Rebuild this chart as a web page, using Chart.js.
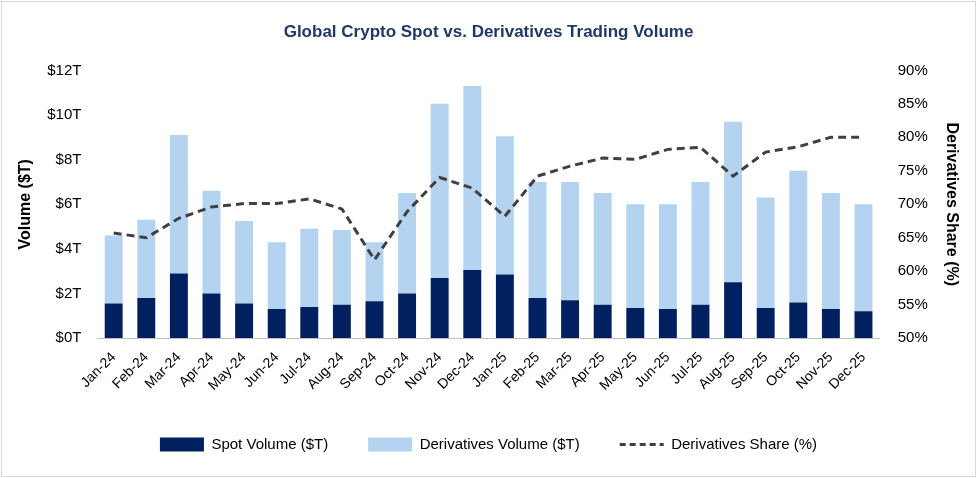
<!DOCTYPE html>
<html><head><meta charset="utf-8">
<script src="https://cdn.jsdelivr.net/npm/chart.js@4"></script>
<style>
html,body{margin:0;padding:0;background:#fff;}
#wrap{position:absolute;left:1px;top:1px;width:973px;height:474px;border:1px solid #d9d9d9;}
</style></head><body>
<div id="wrap"><canvas id="c" width="973" height="474"></canvas></div>
<script>
const categories=["Jan-24","Feb-24","Mar-24","Apr-24","May-24","Jun-24","Jul-24","Aug-24","Sep-24","Oct-24","Nov-24","Dec-24","Jan-25","Feb-25","Mar-25","Apr-25","May-25","Jun-25","Jul-25","Aug-25","Sep-25","Oct-25","Nov-25","Dec-25"];
const spotVolume=[1.55,1.8,2.9,2.0,1.55,1.3,1.4,1.5,1.65,2.0,2.7,3.05,2.85,1.8,1.7,1.5,1.35,1.3,1.5,2.5,1.35,1.6,1.3,1.2];
const derivativesVolume=[3.05,3.5,6.2,4.6,3.7,3.0,3.5,3.35,2.65,4.5,7.8,8.25,6.2,5.2,5.3,5.0,4.65,4.7,5.5,7.2,4.95,5.9,5.2,4.8];
const derivativesShare=[65.7,65.0,67.9,69.6,70.1,70.1,70.8,69.3,61.7,68.9,74.0,72.4,68.2,74.2,75.7,76.9,76.7,78.2,78.5,74.2,77.8,78.6,80.0,80.0];
const font="'Liberation Sans', Arial, sans-serif";
Chart.defaults.font.family=font;
Chart.defaults.color="#000";
new Chart(document.getElementById('c'),{
 data:{labels:categories,datasets:[
  {type:'line',label:'Derivatives Share (%)',data:derivativesShare,yAxisID:'y1',borderColor:'#404040',borderWidth:3,borderDash:[8,5],pointRadius:0,fill:false,tension:0,order:0},
  {type:'bar',label:'Spot Volume ($T)',data:spotVolume,backgroundColor:'#002060',yAxisID:'y',stack:'s',barPercentage:0.55,categoryPercentage:1,order:1},
  {type:'bar',label:'Derivatives Volume ($T)',data:derivativesVolume,backgroundColor:'#b4d3f0',yAxisID:'y',stack:'s',barPercentage:0.55,categoryPercentage:1,order:1}
 ]},
 options:{responsive:false,animation:false,
  layout:{padding:{left:10,right:10,top:8,bottom:14}},
  plugins:{
   title:{display:true,text:'Global Crypto Spot vs. Derivatives Trading Volume',color:'#1f3864',font:{size:17,weight:'bold'},padding:{top:12,bottom:28}},
   legend:{position:'bottom',labels:{font:{size:15},usePointStyle:true,pointStyleWidth:44,boxHeight:14,padding:40,
     generateLabels:(ch)=>ch.data.datasets.map((d,i)=>({text:d.label,pointStyle:d.type==='line'?'line':'rect',fillStyle:d.type==='line'?'#404040':d.backgroundColor,strokeStyle:d.type==='line'?'#404040':d.backgroundColor,lineWidth:d.type==='line'?3:0,lineDash:d.type==='line'?[6,4]:[],datasetIndex:i,fontColor:'#000'})).sort((a,b)=>[1,2,0].indexOf(a.datasetIndex)-[1,2,0].indexOf(b.datasetIndex))}},
   tooltip:{enabled:false}},
  scales:{
   x:{stacked:true,grid:{display:false},border:{color:'#bfbfbf'},ticks:{font:{size:14},maxRotation:45,minRotation:45}},
   y:{stacked:true,min:0,max:12,ticks:{stepSize:2,font:{size:15},callback:v=>'$'+v+'T',padding:8},grid:{display:false},border:{display:false},
      title:{display:true,text:'Volume ($T)',font:{size:16,weight:'bold'}}},
   y1:{position:'right',min:50,max:90,ticks:{stepSize:5,font:{size:15},callback:v=>v+'%',padding:10},grid:{display:false},border:{display:false},
      title:{display:true,text:'Derivatives Share (%)',font:{size:16,weight:'bold'}}}
  }}
});
</script></body></html>
